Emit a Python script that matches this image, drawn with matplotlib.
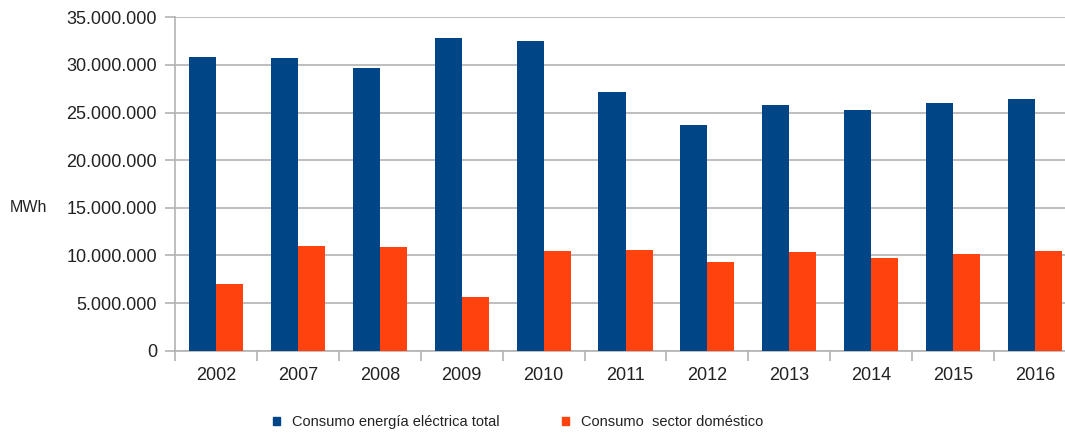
import matplotlib.pyplot as plt
import numpy as np
from matplotlib.patches import Patch
from matplotlib.ticker import FuncFormatter, FixedLocator

plt.rcParams['font.family'] = ['Liberation Sans', 'DejaVu Sans']

years = ["2002", "2007", "2008", "2009", "2010", "2011", "2012", "2013", "2014", "2015", "2016"]
total = [30780000, 30700000, 29700000, 32800000, 32500000, 27200000,
         23700000, 25800000, 25300000, 26000000, 26400000]
domestico = [7020000, 10990000, 10880000, 5650000, 10420000, 10570000,
             9300000, 10320000, 9760000, 10180000, 10420000]

blue = "#004586"
orange = "#ff420e"
grid_col = "#b3b3b3"
text_col = "#222222"

fig = plt.figure(figsize=(10.65, 4.36), dpi=100)
# plot area runs a bit past the right edge, like the original screenshot
ax = fig.add_axes([175 / 1065, 1 - 350.7 / 436, (1076 - 175) / 1065, (350.7 - 17.3) / 436])

x = np.arange(len(years))
w = 0.33
ax.bar(x - w / 2, total, w, color=blue, zorder=3)
ax.bar(x + w / 2, domestico, w, color=orange, zorder=3)

ax.set_xlim(-0.5, len(years) - 0.5)
ax.set_ylim(0, 35000000)
ax.set_yticks(np.arange(0, 35000001, 5000000))
ax.yaxis.set_major_formatter(FuncFormatter(lambda v, p: f"{int(v):,}".replace(",", ".")))
ax.yaxis.grid(True, color=grid_col, linewidth=1.2, zorder=0)

# category labels centred, ticks on the boundaries
ax.set_xticks(x)
ax.set_xticklabels(years)
ax.tick_params(axis='x', which='major', length=0, pad=12, labelsize=13, labelcolor=text_col)
ax.xaxis.set_minor_locator(FixedLocator(np.arange(-0.5, len(years), 1)))
ax.tick_params(axis='x', which='minor', length=7, color=grid_col, width=1.2)
ax.tick_params(axis='y', length=7, color=grid_col, width=1.2, pad=6, labelsize=13, labelcolor=text_col)

for side in ['top', 'right']:
    ax.spines[side].set_visible(False)
for side in ['left', 'bottom']:
    ax.spines[side].set_color(grid_col)
    ax.spines[side].set_linewidth(1.2)

fig.text(10 / 1065, 1 - 207 / 436, "MWh", fontsize=11.5, color=text_col, va='center', ha='left')

handles = [Patch(color=blue, label="Consumo energía eléctrica total"),
           Patch(color=orange, label="Consumo  sector doméstico")]
fig.legend(handles=handles, loc='center', bbox_to_anchor=(518 / 1065, 1 - 422 / 436), ncol=2,
           frameon=False, fontsize=10.5, handlelength=0.5, handleheight=0.5,
           handletextpad=0.8, columnspacing=4.3, labelcolor=text_col)

fig.savefig("out.png", dpi=100)
